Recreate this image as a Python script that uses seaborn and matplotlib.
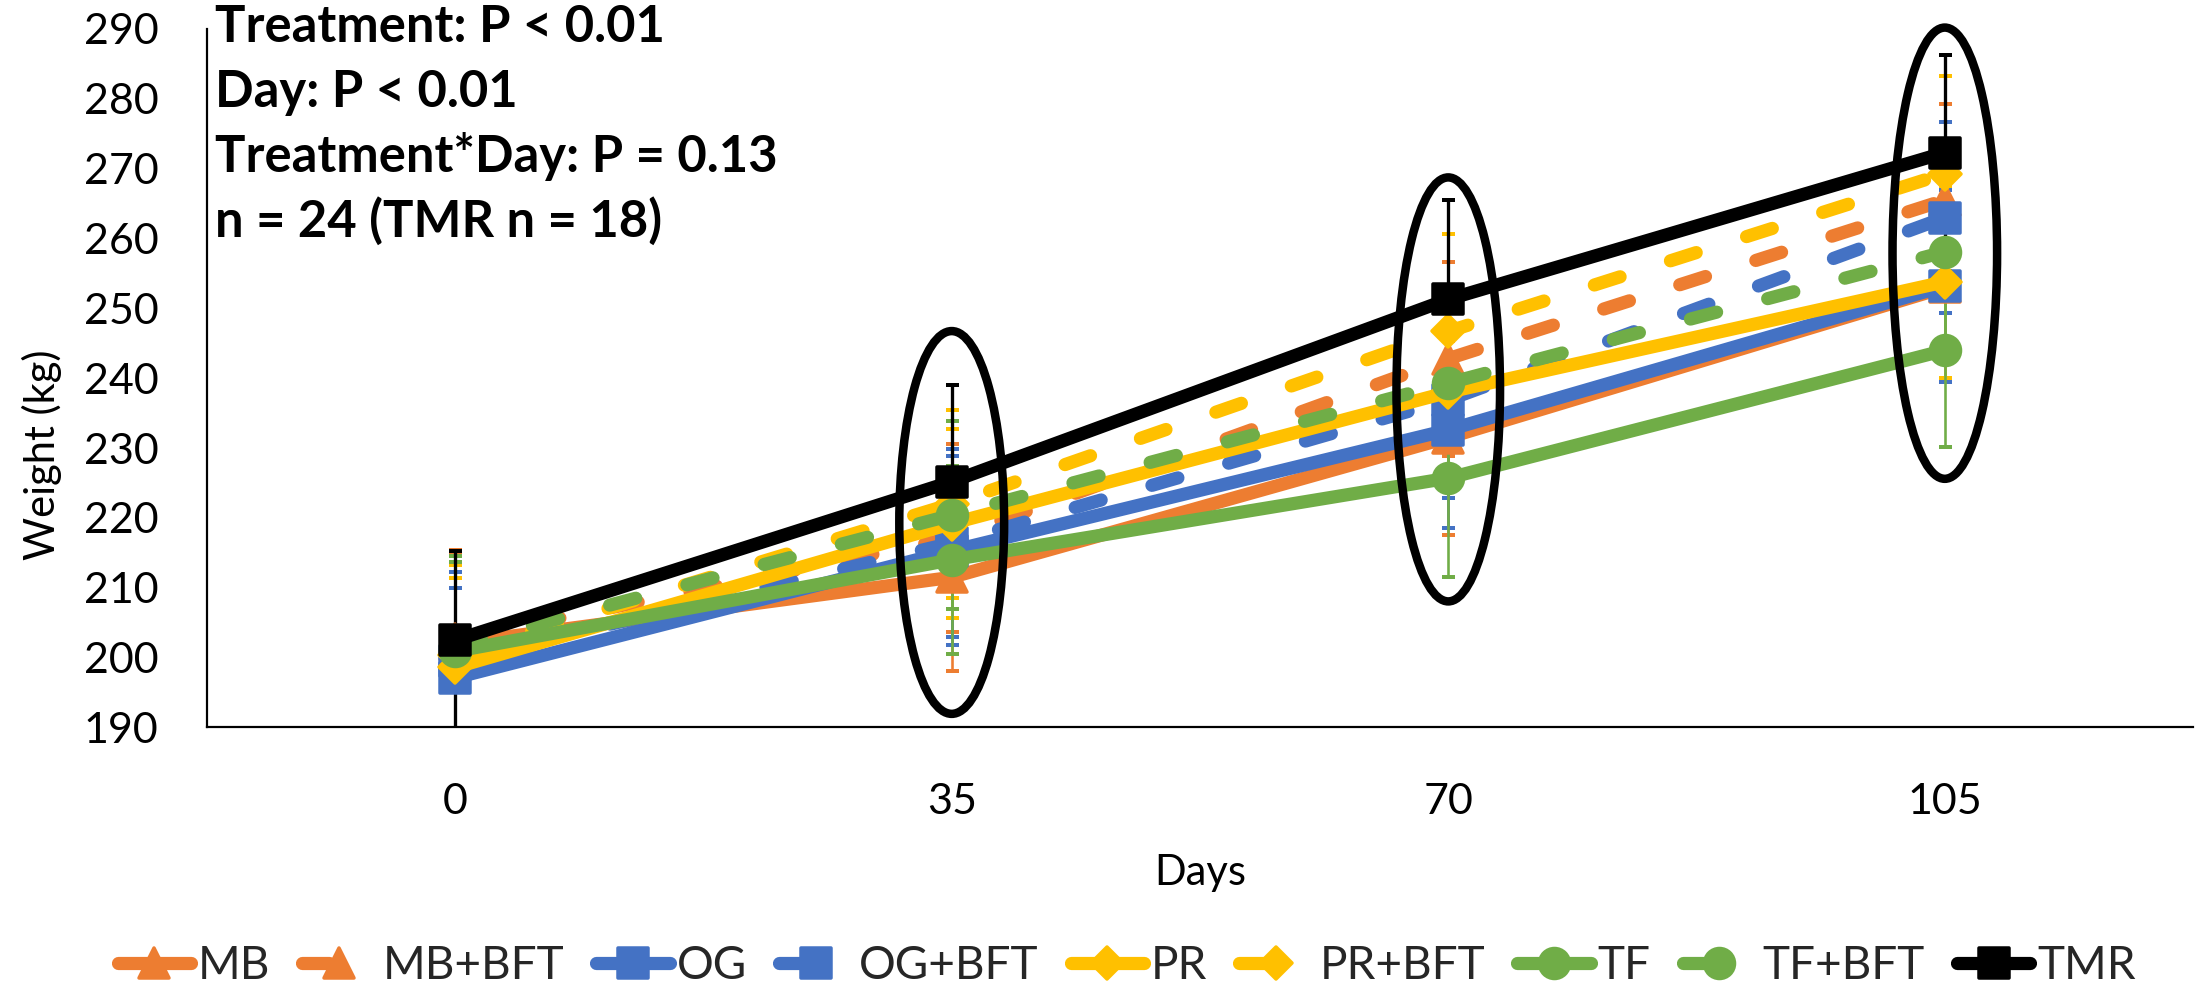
import matplotlib
matplotlib.use("Agg")
import matplotlib.pyplot as plt
from matplotlib.markers import MarkerStyle
from matplotlib.patches import Ellipse
import seaborn as sns

# Sampling days (categorical, equally spaced)
days = [0, 35, 70, 105]
day_labels = ["0", "35", "70", "105"]

# Treatment groups
groups = ["MB", "MB+BFT", "OG", "OG+BFT", "PR", "PR+BFT", "TF", "TF+BFT", "TMR"]

# Mean body weight (kg)
mb = [202.0, 211.5, 231.5, 253.0]
mb_bft = [202.6, 217.1, 242.8, 265.5]
og = [197.1, 215.3, 232.6, 253.2]
og_bft = [199.5, 216.4, 236.9, 263.0]
pr = [198.6, 219.2, 238.0, 253.8]
pr_bft = [200.4, 222.0, 246.7, 269.3]
tf = [200.9, 214.0, 225.7, 244.0]
tf_bft = [201.7, 220.4, 239.3, 258.1]
tmr = [202.5, 225.2, 251.3, 272.3]

# Standard errors (kg)
se_mb = [12.8, 13.4, 13.9, 13.0]
se_mb_bft = [12.8, 13.5, 13.9, 13.8]
se_og = [12.8, 13.5, 14.1, 13.8]
se_og_bft = [12.8, 13.5, 14.0, 13.7]
se_pr = [12.8, 13.5, 14.0, 13.7]
se_pr_bft = [12.8, 13.5, 14.0, 14.0]
se_tf = [12.8, 13.5, 14.1, 13.8]
se_tf_bft = [12.8, 13.5, 14.0, 13.8]
se_tmr = [12.7, 13.8, 14.2, 14.0]

stats_lines = [
    "Treatment: P < 0.01",
    "Day: P < 0.01",
    "Treatment*Day: P = 0.13",
    "n = 24 (TMR n = 18)",
]

means = [mb, mb_bft, og, og_bft, pr, pr_bft, tf, tf_bft, tmr]
errors = [se_mb, se_mb_bft, se_og, se_og_bft, se_pr, se_pr_bft, se_tf, se_tf_bft, se_tmr]

ORANGE, BLUE, GOLD, GREEN, BLACK = "#ED7D31", "#4472C4", "#FFC000", "#70AD47", "#000000"
colors = [ORANGE, ORANGE, BLUE, BLUE, GOLD, GOLD, GREEN, GREEN, BLACK]
markers = ["^", "^", "s", "s", "D", "D", "o", "o", "s"]
dashed = [False, True, False, True, False, True, False, True, False]

sns.set_theme(style="white")
plt.rcParams["font.family"] = ["Lato", "DejaVu Sans"]

DPI = 100
fig = plt.figure(figsize=(22.01, 9.96), dpi=DPI)
ax = fig.add_axes([0.0940, 0.2696, 0.9024, 0.7013])

px = 72.0 / DPI  # points per pixel
LW = 13.2 * px
DASH = (0, (2.05, 4.0))

for i, (name, vals, se, c, m, d) in enumerate(zip(groups, means, errors, colors, markers, dashed)):
    is_tmr = name == "TMR"
    ax.errorbar(days, vals, yerr=se, fmt="none", ecolor=c,
                elinewidth=(3.3 if is_tmr else 2.6) * px,
                capsize=6.5 * px, capthick=4 * px, zorder=2 + i * 0.01)
    ms = 22 * px if m == "D" else 30 * px
    sns.lineplot(x=days, y=vals, ax=ax, color=c, linewidth=LW,
                 linestyle=DASH if d else "-",
                 dash_capstyle="round", solid_capstyle="round",
                 solid_joinstyle="round",
                 marker=MarkerStyle(m, joinstyle="round"), markersize=ms,
                 markerfacecolor=c, markeredgecolor=c, markeredgewidth=3.5 * px,
                 label=name, errorbar=None, zorder=3 + i * 0.1)

# Ellipses highlighting each post-baseline weigh day
ellipses = [(35, 219.35, 7.39, 54.8), (70, 238.4, 7.3, 60.7), (105, 257.9, 7.37, 64.6)]
for cx, cy, w, h in ellipses:
    ax.add_patch(Ellipse((cx, cy), w, h, fill=False, edgecolor="black",
                         linewidth=8.5 * px, zorder=10, clip_on=False))

ax.set_xlim(-17.5, 122.5)
ax.set_ylim(190, 290)
ax.set_xticks(days)
ax.set_xticklabels(day_labels)
ax.set_yticks(range(190, 291, 10))

for side in ["top", "right"]:
    ax.spines[side].set_visible(False)
for side in ["left", "bottom"]:
    ax.spines[side].set_color("black")
    ax.spines[side].set_linewidth(2.2 * px)

ax.tick_params(axis="both", length=0, labelsize=31, colors="black")
ax.tick_params(axis="x", pad=40)
ax.tick_params(axis="y", pad=35)

ax.set_xlabel("Days", fontsize=30, va="center", color="black")
ax.xaxis.set_label_coords(0.5, -0.208)
ax.set_ylabel("Weight (kg)", fontsize=30, va="center", ha="center", color="black")
ax.yaxis.set_label_coords(-0.0831, 0.390)

baselines = [0.982, 0.889, 0.795, 0.702]
for txt, yb in zip(stats_lines, baselines):
    ax.text(0.004, yb, txt, transform=ax.transAxes, fontsize=36.5,
            fontweight="bold", va="baseline", ha="left", color="black", zorder=12)

handles, labels = ax.get_legend_handles_labels()
fig.legend(handles, labels, loc="center", bbox_to_anchor=(0.512, 0.030), ncol=9,
           frameon=False, fontsize=33, handlelength=1.6, handletextpad=0.15,
           columnspacing=0.7, borderaxespad=0)
if ax.get_legend() is not None:
    ax.get_legend().remove()

fig.savefig("out.png", dpi=DPI)
